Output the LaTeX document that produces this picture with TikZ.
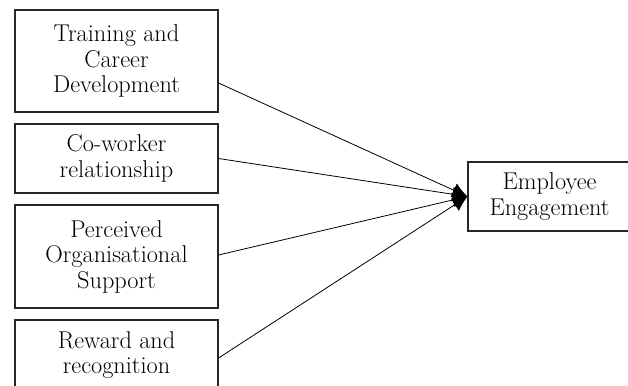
\documentclass[tikz,border=0pt]{standalone}
\usetikzlibrary{arrows.meta}
\begin{document}
\begin{tikzpicture}[x=1pt,y=-1pt,
  factor/.style={draw=black!85, line width=1.1pt, rectangle, align=center,
    inner sep=0pt, font=\fontsize{24.3}{25.5}\selectfont},
  link/.style={draw=black, line width=0.8pt,
    -{Latex[length=15pt,width=15pt]}}]
  \useasboundingbox (0,0) rectangle (628,385);
  \begin{scope}
  \clip (0,0) rectangle (628,385);
  % predictor boxes
  \node[factor, minimum width=203pt, minimum height=102pt] (train) at (116.5,61)
    {Training and\\Career\\Development};
  \node[factor, minimum width=203pt, minimum height=69pt] (cowork) at (116.5,158.5)
    {Co-worker\\relationship};
  \node[factor, minimum width=203pt, minimum height=103pt] (support) at (116.5,256.5)
    {Perceived\\Organisational\\Support};
  \node[factor, minimum width=203pt, minimum height=70pt] (reward) at (116.5,355)
    {Reward and\\recognition};
  % outcome box
  \node[factor, minimum width=163pt, minimum height=69pt] (engage) at (549.5,196.5)
    {Employee\\Engagement};
  % paths into the outcome
  \draw[link] ([yshift=-22pt]train.east) -- (engage.west);
  \draw[link] (cowork.east) -- (engage.west);
  \draw[link] ([yshift=1.5pt]support.east) -- (engage.west);
  \draw[link] ([yshift=-3pt]reward.east) -- (engage.west);
  \end{scope}
\end{tikzpicture}
\end{document}
